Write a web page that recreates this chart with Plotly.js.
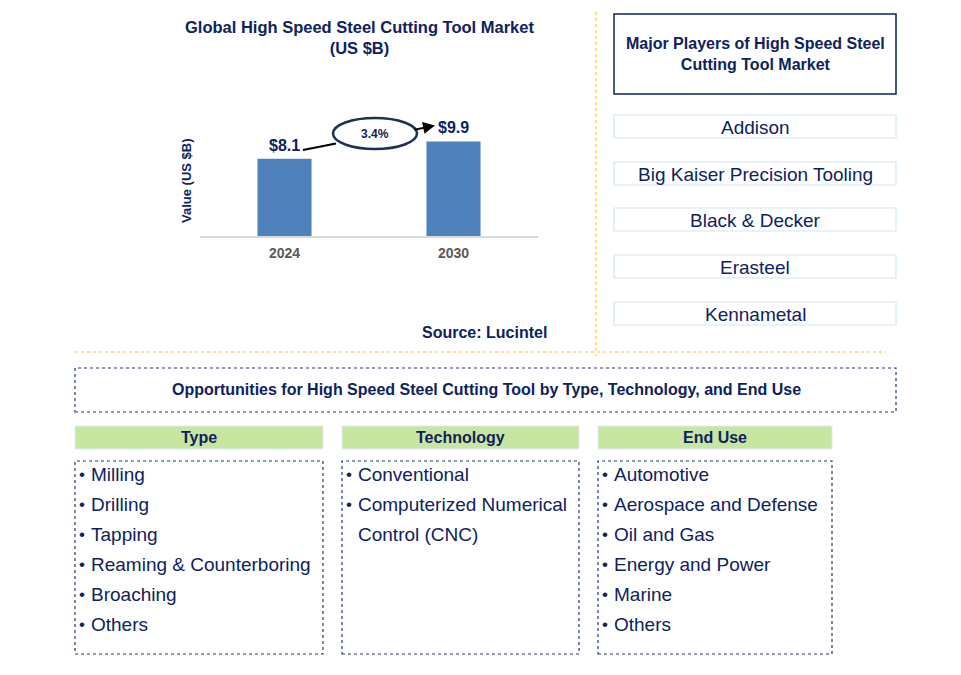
<!DOCTYPE html>
<html>
<head>
<meta charset="utf-8">
<script src="https://cdn.plot.ly/plotly-3.0.1.min.js"></script>
<style>html,body{margin:0;padding:0;background:#fff;}#chart{width:961px;height:675px;}</style>
</head>
<body>
<div id="chart"></div>
<script>
// ---- data ----
const years = ["2024", "2030"];
const values = [8.1, 9.9];
const valueLabels = ["$8.1", "$9.9"];
const cagrLabel = "3.4%";
const chartTitle = "Global High Speed Steel Cutting Tool Market<br>(US $B)";
const yTitle = "Value (US $B)";
const sourceText = "Source: Lucintel";
const playersTitle = "Major Players of High Speed Steel<br>Cutting Tool Market";
const players = ["Addison", "Big Kaiser Precision Tooling", "Black & Decker", "Erasteel", "Kennametal"];
const oppTitle = "Opportunities for High Speed Steel Cutting Tool by Type, Technology, and End Use";
const columnHeads = ["Type", "Technology", "End Use"];
const types = ["Milling", "Drilling", "Tapping", "Reaming & Counterboring", "Broaching", "Others"];
const technologies = ["Conventional", "Computerized Numerical Control (CNC)"];
const endUses = ["Automotive", "Aerospace and Defense", "Oil and Gas", "Energy and Power", "Marine", "Others"];

// ---- helpers ----
const W = 961, H = 675;
const X = px => px / W;
const Y = py => 1 - py / H;
const NAVY = "#0E2260";
const FONT = "Liberation Sans, Arial, sans-serif";

const shapes = [];
const ann = [];

function rect(x0, y0, x1, y1, line, fill, dash, width) {
  shapes.push({type: "rect", xref: "paper", yref: "paper", x0: X(x0), x1: X(x1), y0: Y(y1), y1: Y(y0),
    line: {color: line, width: width || 1, dash: dash || "solid"}, fillcolor: fill || "rgba(0,0,0,0)", layer: "below"});
}
function line(x0, y0, x1, y1, color, width, dash) {
  shapes.push({type: "line", xref: "paper", yref: "paper", x0: X(x0), x1: X(x1), y0: Y(y0), y1: Y(y1),
    line: {color: color, width: width, dash: dash || "solid"}});
}
function text(t, x, y, size, opts) {
  opts = opts || {};
  ann.push(Object.assign({xref: "paper", yref: "paper", x: X(x), y: Y(y), text: t, showarrow: false,
    xanchor: "center", yanchor: "middle", font: {family: FONT, size: size, color: NAVY}}, opts));
}
function wrap(s, maxChars) {
  const words = s.split(" "); const lines = []; let cur = "";
  words.forEach(w => {
    if (cur && (cur + " " + w).length > maxChars) { lines.push(cur); cur = w; }
    else cur = cur ? cur + " " + w : w;
  });
  if (cur) lines.push(cur);
  return lines;
}

// ---- separators ----
line(596, 12, 596, 356, "#FFC000", 1, "dot");
line(75, 352, 886, 352, "#FFC000", 1, "dot");

// ---- bar chart text ----
text("<b>" + chartTitle + "</b>", 359, 37, 16.5);
text("<b>" + yTitle + "</b>", 186, 181, 13, {textangle: -90});
text("<b>" + sourceText + "</b>", 484, 332, 16);

// bar value labels (category index positions on the x axis)
years.forEach((yr, i) => {
  ann.push({xref: "x", yref: "y", x: i, y: values[i], text: "<b>" + valueLabels[i] + "</b>", showarrow: false,
    yanchor: "bottom", yshift: 3, font: {family: FONT, size: 16, color: NAVY}});
});

// CAGR arrow
line(303, 150, 336, 143.5, "#000000", 2);
ann.push({xref: "paper", yref: "paper", x: X(435), y: Y(125.5), ax: -22, ay: 4.5, axref: "pixel", ayref: "pixel",
  text: "", showarrow: true, arrowhead: 2, arrowsize: 1.2, arrowwidth: 2, arrowcolor: "#000000"});
shapes.push({type: "circle", xref: "paper", yref: "paper", x0: X(333), x1: X(417), y0: Y(149), y1: Y(118),
  line: {color: "#1F3050", width: 2.5}, fillcolor: "#ffffff", layer: "above"});
text("<b>" + cagrLabel + "</b>", 375, 133.5, 12);

// ---- major players ----
rect(614, 14, 896, 94, "#0E2260", "#ffffff", "solid", 1.5);
text("<b>" + playersTitle + "</b>", 755, 54, 16);
const playerTops = [115, 162, 208, 255, 302];
players.forEach((p, i) => {
  const t = playerTops[i];
  rect(614, t, 896, t + 23, "#CFE6F5", "#ffffff", "solid", 1.2);
  text(p, 755, t + 12, 19);
});

// ---- opportunities ----
rect(75, 368, 896, 412, "#1F3864", "#ffffff", "dot", 1.2);
text("<b>" + oppTitle + "</b>", 486, 390, 16);

const cols = [
  {x0: 75, x1: 323, items: types, wrapAt: 30},
  {x0: 342, x1: 579, items: technologies, wrapAt: 24},
  {x0: 598, x1: 832, items: endUses, wrapAt: 30}
];
cols.forEach((c, ci) => {
  rect(c.x0, 426, c.x1, 449, "#DDEBF7", "#C9E6A1", "solid", 1);
  text("<b>" + columnHeads[ci] + "</b>", (c.x0 + c.x1) / 2, 437.5, 16);
  rect(c.x0, 461, c.x1, 654, "#1F3864", "#ffffff", "dot", 1.2);
  let row = 0;
  c.items.forEach(it => {
    const lines = wrap(it, c.wrapAt);
    text("•", c.x0 + 7, 474 + row * 30, 17);
    lines.forEach(l => {
      text(l, c.x0 + 14, 474 + row * 30, 19, {xanchor: "left"});
      row++;
    });
  });
});

// ---- bars ----
const trace = {
  type: "bar", x: years, y: values, width: 0.32,
  marker: {color: "#4F81BD"}, hoverinfo: "skip"
};

const layout = {
  width: W, height: H, margin: {l: 0, r: 0, t: 0, b: 0},
  paper_bgcolor: "#ffffff", plot_bgcolor: "rgba(0,0,0,0)",
  showlegend: false,
  xaxis: {domain: [X(200), X(538)], type: "category", range: [-0.5, 1.5], showgrid: false, zeroline: false,
    showline: true, linecolor: "#D9D9D9", linewidth: 1.5, ticks: "", fixedrange: true, ticklabelstandoff: 4,
    tickfont: {family: FONT, size: 14, color: "#595959", weight: "bold"}},
  yaxis: {domain: [Y(236), Y(121.4)], range: [0, 12], showgrid: false, zeroline: false, showline: false,
    showticklabels: false, ticks: "", fixedrange: true},
  shapes: shapes,
  annotations: ann
};

Plotly.newPlot("chart", [trace], layout, {displayModeBar: false, staticPlot: true});
</script>
</body>
</html>
